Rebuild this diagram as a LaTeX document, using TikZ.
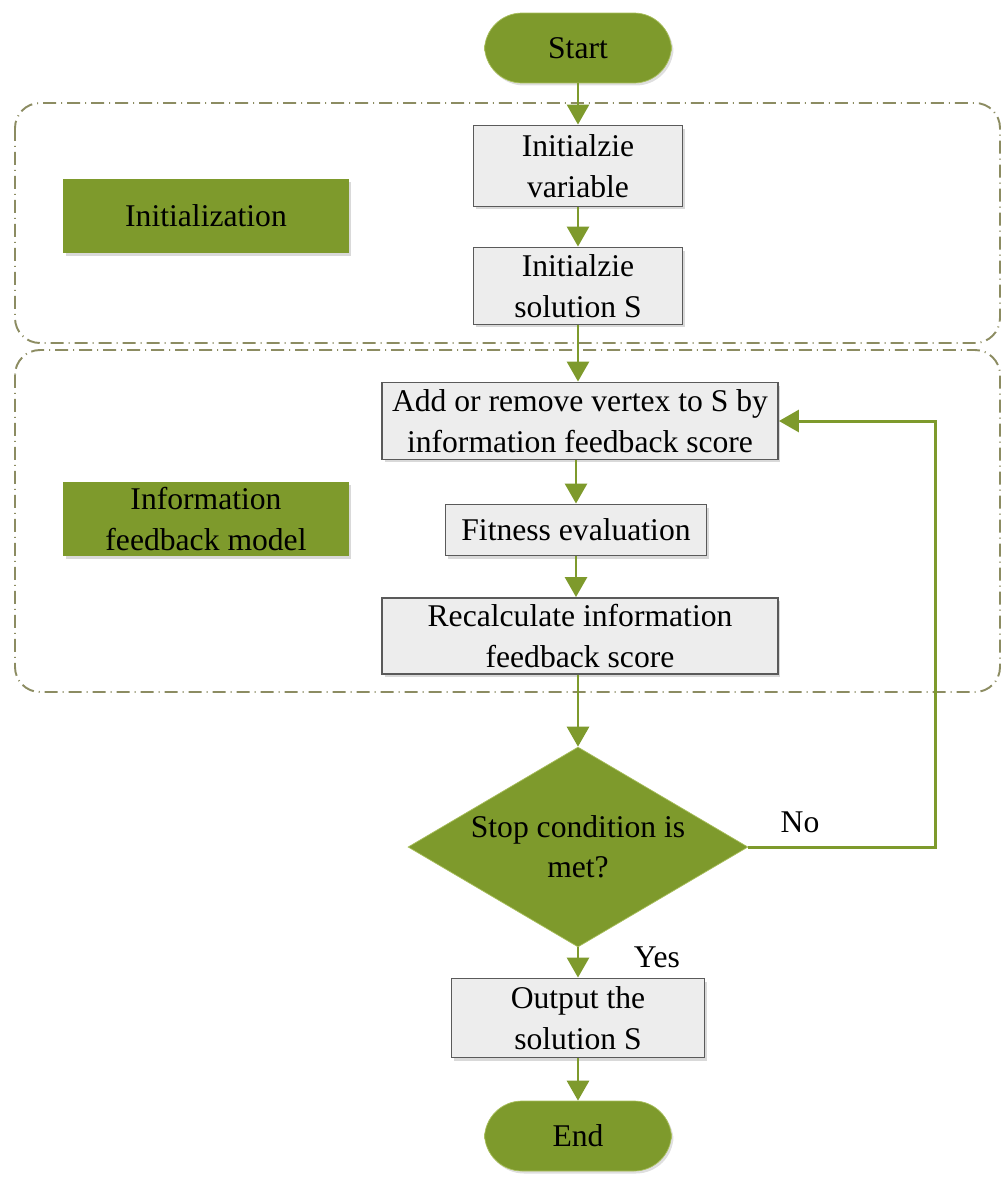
\documentclass[tikz,border=0pt]{standalone}
\usepackage{fontspec}
\setmainfont{LiberationSerif}[Extension=.ttf,UprightFont=*-Regular,BoldFont=*-Bold]
\usepackage{tikz}
\usetikzlibrary{arrows.meta,shapes.geometric,shadows}
\definecolor{olive}{HTML}{7E9A2C}
\definecolor{olivelight}{HTML}{A8BE5C}
\definecolor{boxgrey}{HTML}{EDEDED}
\definecolor{edgegrey}{HTML}{5A5A5A}
\definecolor{dashgrey}{HTML}{8C8C62}

\begin{document}
\begin{tikzpicture}[x=0.02cm,y=-0.02cm,
			font=\fontsize{18}{23}\selectfont,
			terminal/.style={draw=olivelight,fill=olive,rounded corners=0.75cm,minimum width=3.74cm,minimum height=1.4cm,
				drop shadow={opacity=0.25,shadow xshift=0.04cm,shadow yshift=-0.05cm}},
			proc/.style={draw=edgegrey,line width=1.1pt,fill=boxgrey,align=center,inner sep=2pt,
				drop shadow={opacity=0.3,shadow xshift=0.05cm,shadow yshift=-0.06cm}},
			phase/.style={fill=olive,align=center,minimum width=5.72cm,minimum height=1.48cm,
				drop shadow={opacity=0.3,shadow xshift=0.05cm,shadow yshift=-0.06cm}},
			cond/.style={diamond,draw=olivelight,fill=olive,align=center,inner sep=0pt,shape aspect=1.7,
				minimum width=6.8cm,minimum height=4cm},
			group/.style={draw=dashgrey,line width=1.1pt,rounded corners=0.5cm,
				dash pattern=on 0.26cm off 0.1cm on 0.02cm off 0.1cm},
			flow/.style={draw=olive,line width=1.7pt,-{Triangle[width=0.44cm,length=0.4cm]}}
			]
			\useasboundingbox (0,0) rectangle (1004,1177);
			% phase frames
			\draw[group] (15,103) rectangle (1000,343);
			\draw[group] (15,350) rectangle (1000,692);
			% phase labels
			\node[phase] (lblinit) at (206,216) {Initialization};
			\node[phase] (lblfeed) at (206,519) {Information\\feedback model};
			% main column
			\node[terminal] (start) at (578,48) {Start};
			\node[proc,minimum width=4.18cm,minimum height=1.62cm] (initvar) at (578,166) {Initialzie\\variable};
			\node[proc,minimum width=4.18cm,minimum height=1.54cm] (initsol) at (578,286) {Initialzie\\solution S};
			\node[proc,minimum width=7.92cm,minimum height=1.54cm] (update) at (580,421) {Add or remove vertex to S by\\information feedback score};
			\node[proc,minimum width=5.22cm,minimum height=1.02cm] (fitness) at (576,530) {Fitness evaluation};
			\node[proc,minimum width=7.92cm,minimum height=1.52cm] (recalc) at (580,636) {Recalculate information\\feedback score};
			\node[cond] (stop) at (578,847) {Stop condition is\\met?};
			\node[proc,minimum width=5.06cm,minimum height=1.58cm] (output) at (578,1018) {Output the\\solution S};
			\node[terminal] (finish) at (578,1136) {End};
			\coordinate (loop) at (935,421);
			% connectors
			\draw[flow] (start) -- (initvar);
			\draw[flow] (initvar) -- (initsol);
			\draw[flow] (initsol) -- (update.north -| initsol);
			\draw[flow] (update.south -| fitness) -- (fitness);
			\draw[flow] (fitness) -- (recalc.north -| fitness);
			\draw[flow] (recalc.south -| stop) -- (stop);
			\draw[flow] (stop) -- (output);
			\draw[flow] (output) -- (finish);
			\draw[flow] (stop.east) -| (loop) -- (update.east);
			\node (no) at (800,822) {No};
			\node (yes) at (657,957) {Yes};
		\end{tikzpicture}
\end{document}
